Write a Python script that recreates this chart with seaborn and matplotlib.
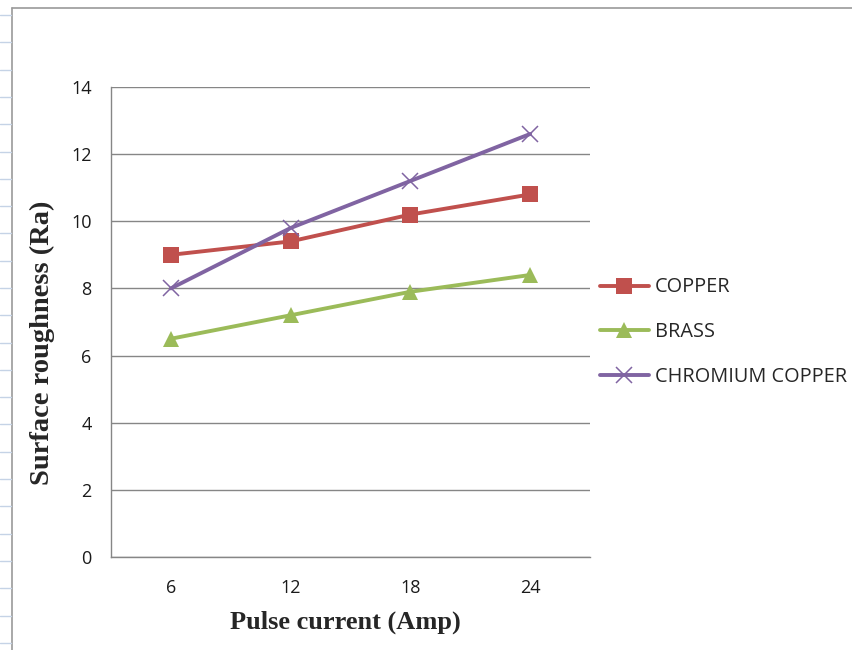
import numpy as np
import pandas as pd
import matplotlib.pyplot as plt
import seaborn as sns
from matplotlib.lines import Line2D

currents = ['6', '12', '18', '24']
copper = [9.0, 9.4, 10.2, 10.8]
brass = [6.5, 7.2, 7.9, 8.4]
chromium_copper = [8.0, 9.8, 11.2, 12.6]

series = ['COPPER', 'BRASS', 'CHROMIUM COPPER']
colors = ['#C0504D', '#9BBB59', '#8064A2']
markers = ['s', '^', 'x']

df = pd.DataFrame({
    'current': currents * 3,
    'ra': copper + brass + chromium_copper,
    'metal': np.repeat(series, len(currents)),
})

sns.set_style('white')
fig = plt.figure(figsize=(8.52, 6.5), dpi=100)
ax = fig.add_axes([0.1303, 0.1431, 0.5622, 0.7231])

for name, col, mk in zip(series, colors, markers):
    d = df[df['metal'] == name]
    sns.lineplot(data=d, x='current', y='ra', ax=ax, color=col, marker=mk,
                 linewidth=2.8, markersize=11 if mk != 'x' else 12,
                 markeredgewidth=0 if mk != 'x' else 1.1,
                 markeredgecolor=col, label=name, sort=False)

gray = '#868686'
ax.set_ylim(0, 14)
ax.set_yticks(range(0, 15, 2))
ax.set_xlim(-0.5, 3.5)
ax.grid(axis='y', color=gray, linewidth=1)
ax.grid(axis='x', visible=False)
for s in ['top', 'right']:
    ax.spines[s].set_visible(False)
for s in ['left', 'bottom']:
    ax.spines[s].set_color(gray)
    ax.spines[s].set_linewidth(1)

ax.set_xticks(range(len(currents)))
ax.set_xticklabels(currents)
ax.set_xticks(np.arange(-0.5, 4, 1), minor=True)
ax.tick_params(axis='x', which='major', length=0, pad=16)
ax.tick_params(axis='x', which='minor', length=6, color=gray, width=1, direction='out')
ax.tick_params(axis='y', length=6, color=gray, width=1, direction='out', pad=8)
ax.tick_params(labelsize=13, labelcolor='#1a1a1a')
for lab in ax.get_xticklabels() + ax.get_yticklabels():
    lab.set_family('Open Sans')

ax.set_xlabel('Pulse current (Amp)', family='Liberation Serif', fontweight='bold',
              fontsize=19)
ax.set_ylabel('Surface roughness (Ra)', family='Liberation Serif', fontweight='bold',
              fontsize=20.5)
ax.xaxis.set_label_coords(0.4885, -0.115)
ax.yaxis.set_label_coords(-0.117, 0.455)

leg = ax.legend(loc='center left', bbox_to_anchor=(1.0209, 0.478), frameon=False,
                prop={'family': 'Open Sans', 'size': 14.3}, handlelength=2.45,
                handletextpad=0.3, labelspacing=1.25, borderaxespad=0, borderpad=0)

# spreadsheet backdrop: chart frame and cell lines at the left edge
fig.add_artist(Line2D([12 / 852, 12 / 852], [0, 1 - 8 / 650], color='#9a9a9a',
                      linewidth=1.2, transform=fig.transFigure))
fig.add_artist(Line2D([12 / 852, 1], [1 - 8 / 650, 1 - 8 / 650], color='#9a9a9a',
                      linewidth=1.2, transform=fig.transFigure))
for yy in np.arange(15, 650, 27.3):
    fig.add_artist(Line2D([0, 11 / 852], [1 - yy / 650, 1 - yy / 650], color='#c5d3e6',
                          linewidth=1, transform=fig.transFigure))

fig.savefig('out.png', dpi=100)
